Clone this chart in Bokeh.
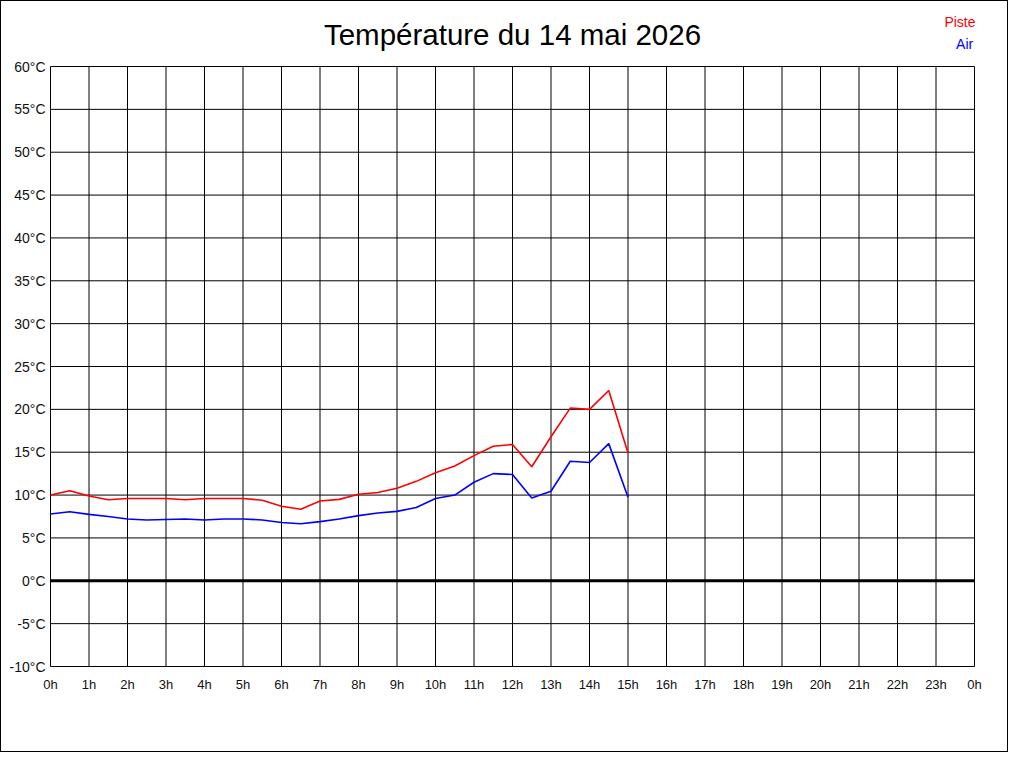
from bokeh.plotting import figure
from bokeh.models import Range1d, FixedTicker, CustomJSTickFormatter, Label
from bokeh.embed import file_html
from bokeh.resources import INLINE

title_text = "Température du 14 mai 2026"
hours = [0, 0.5, 1, 1.5, 2, 2.5, 3, 3.5, 4, 4.5, 5, 5.5, 6, 6.5, 7, 7.5,
         8, 8.5, 9, 9.5, 10, 10.5, 11, 11.5, 12, 12.5, 13, 13.5, 14, 14.5, 15]
piste = [10.0, 10.5, 9.9, 9.45, 9.6, 9.6, 9.6, 9.45, 9.6, 9.6, 9.6, 9.4, 8.7, 8.35, 9.3, 9.5,
         10.1, 10.3, 10.8, 11.6, 12.6, 13.4, 14.6, 15.7, 15.9, 13.3, 16.8, 20.15, 20.0, 22.2, 14.9]
air = [7.8, 8.05, 7.75, 7.5, 7.2, 7.1, 7.15, 7.2, 7.1, 7.2, 7.2, 7.1, 6.8, 6.65, 6.9, 7.2,
       7.6, 7.9, 8.1, 8.55, 9.6, 10.0, 11.5, 12.5, 12.4, 9.65, 10.45, 13.95, 13.8, 16.0, 9.75]
x_ticks = list(range(0, 25))
y_ticks = list(range(-10, 61, 5))
series_names = ["Piste", "Air"]
series_colors = ["#ff0000", "#0000ff"]

FONT = "Liberation Sans"
PX_PER_H = 38.5
PX_PER_DEG = 600 / 70

# frame extends above the 60°C line so the title and legend texts (drawn in data space) are not clipped
FRAME_W, FRAME_H = 927, 666
x_start = x_ticks[0] - 1 / PX_PER_H
y_start = y_ticks[0] - 1 / PX_PER_DEG

p = figure(title=None, frame_width=FRAME_W, frame_height=FRAME_H,
           min_border_left=48, min_border_right=31, min_border_top=0, min_border_bottom=84,
           x_range=Range1d(x_start, x_start + FRAME_W / PX_PER_H),
           y_range=Range1d(y_start, y_start + FRAME_H / PX_PER_DEG),
           output_backend="svg", toolbar_location=None)
p.background_fill_color = "white"
p.border_fill_color = "white"
p.outline_line_color = None
p.styles = {"border": "1px solid black"}
p.xgrid.visible = False
p.ygrid.visible = False

for ax, ticks, std, size in ((p.xaxis[0], x_ticks, 9, "13px"), (p.yaxis[0], y_ticks, 4, "14px")):
    ax.ticker = FixedTicker(ticks=ticks)
    ax.axis_line_color = None
    ax.major_tick_line_color = None
    ax.minor_tick_line_color = None
    ax.major_tick_out = 0
    ax.major_tick_in = 0
    ax.major_label_standoff = std
    ax.major_label_text_font = FONT
    ax.major_label_text_font_size = size
    ax.major_label_text_color = "#111111"

p.xaxis[0].formatter = CustomJSTickFormatter(code="return (tick % 24) + 'h';")
p.yaxis[0].formatter = CustomJSTickFormatter(code="return tick + '°C';")

# grid lines (hourly verticals, 5°C horizontals) limited to the chart box
p.segment(x0=x_ticks, y0=[y_ticks[0]] * len(x_ticks), x1=x_ticks, y1=[y_ticks[-1]] * len(x_ticks),
          line_color="black", line_width=1)
p.segment(x0=[x_ticks[0]] * len(y_ticks), y0=y_ticks, x1=[x_ticks[-1]] * len(y_ticks), y1=y_ticks,
          line_color="black", line_width=1)
# thick zero line
p.segment(x0=[x_ticks[0]], y0=[0], x1=[x_ticks[-1]], y1=[0], line_color="black", line_width=3)

p.line(hours, piste, line_color=series_colors[0], line_width=1.6)
p.line(hours, air, line_color=series_colors[1], line_width=1.6)

p.add_layout(Label(x=12, y=63.68, text=title_text, text_align="center",
                   text_baseline="middle", text_font=FONT, text_font_size="29.5px",
                   text_color="black"))
p.add_layout(Label(x=24.026, y=65.16, text=series_names[0], text_align="right",
                   text_baseline="middle", text_font=FONT, text_font_size="14px",
                   text_color=series_colors[0]))
p.add_layout(Label(x=23.966, y=62.62, text=series_names[1], text_align="right",
                   text_baseline="middle", text_font=FONT, text_font_size="14px",
                   text_color=series_colors[1]))

open("out.html", "w").write(file_html(p, INLINE))
